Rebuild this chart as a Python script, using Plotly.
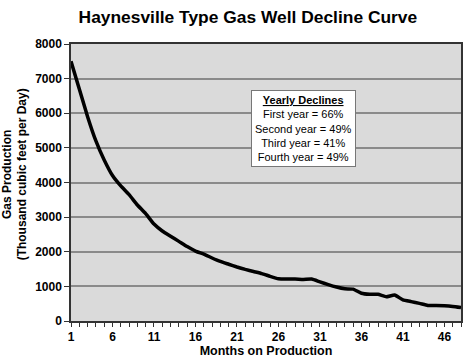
import plotly.graph_objects as go

months = list(range(1, 49))
production = [7500, 6700, 5900, 5200, 4650, 4200, 3900, 3650, 3350, 3100,
              2800, 2600, 2450, 2300, 2150, 2020, 1930, 1820, 1720, 1640,
              1560, 1490, 1430, 1370, 1290, 1220, 1210, 1210, 1200, 1210,
              1130, 1050, 980, 930, 920, 800, 770, 770, 700, 750,
              610, 560, 510, 450, 450, 440, 420, 390]
x_tick_vals = [1, 6, 11, 16, 21, 26, 31, 36, 41, 46]
y_tick_vals = [0, 1000, 2000, 3000, 4000, 5000, 6000, 7000, 8000]
declines_title = "Yearly Declines"
declines_lines = ["First year = 66%", "Second year = 49%", "Third year = 41%", "Fourth year = 49%"]

FONT = "Liberation Sans, Arial, sans-serif"

fig = go.Figure()
fig.add_trace(go.Scatter(x=months, y=production, mode="lines",
                         line=dict(color="black", width=3.5, shape="spline", smoothing=0.4),
                         showlegend=False, hoverinfo="skip"))

fig.update_layout(
    width=474, height=358,
    margin=dict(l=71, r=13, t=44, b=37),
    paper_bgcolor="white", plot_bgcolor="#dadada",
    font=dict(family=FONT, color="black"),
    title=dict(text="<b>Haynesville Type Gas Well Decline Curve</b>", x=0.523, xanchor="center",
               y=0.952, yanchor="middle", font=dict(size=17.4, family=FONT)),
    xaxis=dict(range=[1, 48], tickvals=x_tick_vals, ticktext=[f"<b>{v}</b>" for v in x_tick_vals],
               ticks="outside", ticklen=4, tickwidth=1, tickcolor="#333", automargin=False,
               minor=dict(ticks="outside", dtick=1, tick0=1, ticklen=4, tickcolor="#333", showgrid=False),
               showgrid=False, zeroline=False, showline=True, linecolor="#333", linewidth=1.5, mirror=True,
               tickfont=dict(size=12, family=FONT),
               title=dict(text="<b>Months on Production</b>", font=dict(size=12.5, family=FONT), standoff=2)),
    yaxis=dict(range=[0, 8000], tickvals=y_tick_vals, ticktext=[f"<b>{v}</b>" for v in y_tick_vals],
               ticks="outside", ticklen=5, tickwidth=1, tickcolor="#333", automargin=False,
               showgrid=True, gridcolor="#8a8a8a", gridwidth=1.5, zeroline=False,
               showline=True, linecolor="#333", linewidth=1.5, mirror=True,
               tickfont=dict(size=12, family=FONT)),
)

fig.add_annotation(
    xref="paper", yref="paper", x=-0.145, y=0.531, xanchor="center", yanchor="middle",
    text="<b>Gas Production<br>(Thousand cubic feet per Day)</b>", textangle=-90,
    showarrow=False, align="center", font=dict(size=12, family=FONT, color="black"),
)

fig.add_annotation(
    xref="paper", yref="paper", x=0.597, y=0.695, xanchor="center", yanchor="middle",
    text="<b><u>" + declines_title + "</u></b><br>" + "<br>".join(declines_lines),
    showarrow=False, align="center", font=dict(size=11, family=FONT, color="black"),
    bgcolor="white", bordercolor="#777", borderwidth=1, borderpad=3,
)

fig.write_html("out.html", config={"displayModeBar": False},
               post_script="document.body.style.margin='0';")
